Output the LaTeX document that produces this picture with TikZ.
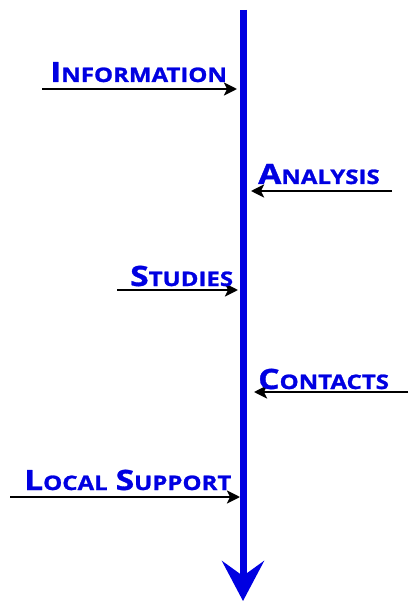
\documentclass[tikz,border=0pt]{standalone}
\usepackage{fontspec}
\setmainfont{Open Sans}[FakeStretch=1.2,BoldFeatures={FakeBold=1.2}]
\usetikzlibrary{arrows.meta}
\definecolor{flowblue}{RGB}{0,0,225}
\newcommand{\capword}[2]{{\fontsize{28}{28}\selectfont #1}{\fontsize{20}{20}\selectfont #2}}

\begin{document}
\begin{tikzpicture}[
    x=1pt,y=-1pt,
    lbl/.style={anchor=base west,inner sep=0pt,text=flowblue,font=\bfseries},
    feed/.style={-{Stealth[length=13pt,width=13pt,inset=3pt]},line width=2.6pt,black},
    >=Stealth
]
\useasboundingbox (0,0) rectangle (409,601);

% main flow
\coordinate (top) at (243,10);
\coordinate (bot) at (243,601);
\draw[line width=7pt,flowblue,-{Stealth[length=40pt,width=42pt,inset=15pt]}] (top) -- (bot);

% incoming items
\coordinate (infoS) at (42,89);   \coordinate (infoE) at (237,89);
\coordinate (anaS) at (392,191);  \coordinate (anaE) at (251,191);
\coordinate (stuS) at (117,290);  \coordinate (stuE) at (238,290);
\coordinate (conS) at (408,392);  \coordinate (conE) at (254,392);
\coordinate (locS) at (10,497);   \coordinate (locE) at (240,497);

\draw[feed] (infoS) -- (infoE);
\draw[feed] (anaS) -- (anaE);
\draw[feed] (stuS) -- (stuE);
\draw[feed] (conS) -- (conE);
\draw[feed] (locS) -- (locE);

\node[lbl] (info) at (50,82) {\capword{I}{NFORMATION}};
\node[lbl] (ana) at (258,184) {\capword{A}{NALYSIS}};
\node[lbl] (stu) at (130,286) {\capword{S}{TUDIES}};
\node[lbl] (con) at (258,389) {\capword{C}{ONTACTS}};
\node[lbl] (loc) at (24,490) {\capword{L}{OCAL}\hspace{8pt}\capword{S}{UPPORT}};
\end{tikzpicture}
\end{document}
